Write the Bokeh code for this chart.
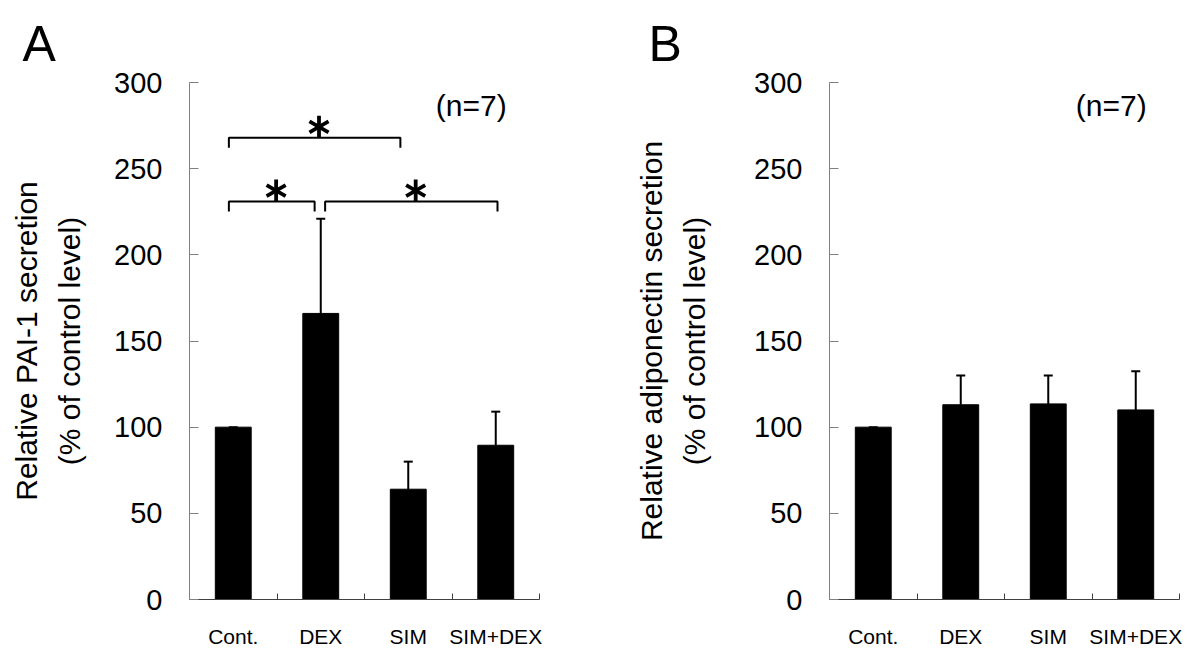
import numpy as np
from bokeh.plotting import figure
from bokeh.models import (ColumnDataSource, Whisker, TeeHead, FixedTicker, Label,
                          Range1d, Title)
from bokeh.layouts import row
from bokeh.embed import file_html
from bokeh.resources import INLINE

# ---------------- data ----------------
categories = ["Cont.", "DEX", "SIM", "SIM+DEX"]
pai1_mean = [100, 166, 64, 89.5]
pai1_err = [0, 55, 16, 19.5]
adipo_mean = [100, 113, 113.5, 110]
adipo_err = [0, 17, 16.5, 22.5]
y_ticks = [0, 50, 100, 150, 200, 250, 300]
n_text = "(n=7)"
# significance brackets (panel A): from-category, to-category, height level
sig_from = ["Cont.", "Cont.", "DEX"]
sig_to = ["SIM", "DEX", "SIM+DEX"]
sig_level = [268, 231, 231]

# ---------------- style ----------------
FONT = "Liberation Sans"
bracket_inset = [(-0.05, -0.09), (-0.05, -0.07), (0.05, 0.02)]
bracket_drop = 5.8
H = 655


def make_panel(means, errs, ylabel, letter, bl, br, bt, bb, label_standoff,
               letter_offset, brackets=False):
    p = figure(width=600, height=H, x_range=Range1d(0, 4), y_range=Range1d(0, 300),
               output_backend="svg", toolbar_location=None,
               min_border_left=bl, min_border_right=br, min_border_top=bt, min_border_bottom=bb)
    p.grid.visible = False
    p.outline_line_color = None
    p.background_fill_color = "white"
    p.border_fill_color = "white"
    p.title = Title(text=letter, align="left", offset=letter_offset, text_font=FONT,
                    text_font_size="50px", text_font_style="normal", text_color="black",
                    vertical_align="bottom", standoff=22)

    x = np.arange(len(categories)) + 0.5
    upper = [m + e for m, e in zip(means, errs)]
    src = ColumnDataSource(dict(x=x, top=means, upper=upper, lower=means))
    p.vbar(x="x", top="top", width=0.41, source=src, fill_color="black", line_color="black")
    w = Whisker(base="x", upper="upper", lower="lower", source=src, dimension="height",
                line_color="black", line_width=2,
                upper_head=TeeHead(size=9, line_color="black", line_width=2), lower_head=None)
    p.add_layout(w)

    # x axis
    xa = p.xaxis[0]
    xa.ticker = FixedTicker(ticks=list(x), minor_ticks=[0, 1, 2, 3, 4])
    xa.major_label_overrides = {float(v): c for v, c in zip(x, categories)}
    xa.major_tick_line_color = None
    xa.minor_tick_in = 6
    xa.minor_tick_out = 0
    xa.minor_tick_line_color = "#404040"
    xa.axis_line_color = "#404040"
    xa.major_label_text_font = FONT
    xa.major_label_text_font_size = "21px"
    xa.major_label_text_color = "black"
    xa.major_label_standoff = 19

    # y axis
    ya = p.yaxis[0]
    ya.ticker = FixedTicker(ticks=y_ticks)
    ya.major_tick_in = 9
    ya.major_tick_out = 0
    ya.minor_tick_line_color = None
    ya.major_tick_line_color = "#808080"
    ya.axis_line_color = "#808080"
    ya.major_label_text_font = FONT
    ya.major_label_text_font_size = "29px"
    ya.major_label_text_color = "black"
    ya.major_label_standoff = 27
    ya.axis_label = ylabel
    ya.axis_label_text_font = FONT
    ya.axis_label_text_font_size = "30px"
    ya.axis_label_text_font_style = "normal"
    ya.axis_label_text_color = "black"
    ya.axis_label_standoff = label_standoff
    ya.axis_label_text_line_height = 1.3

    p.add_layout(Label(x=3.22, y=286.5, text=n_text, text_font=FONT, text_font_size="30px",
                       text_baseline="middle", text_align="center", text_color="black"))

    if brackets:
        idx = {c: i + 0.5 for i, c in enumerate(categories)}
        xs, ys, sx, sy = [], [], [], []
        for a, b, lvl, (ia, ib) in zip(sig_from, sig_to, sig_level, bracket_inset):
            x0, x1 = idx[a] + ia, idx[b] + ib
            xs.append([x0, x0, x1, x1])
            ys.append([lvl - bracket_drop, lvl, lvl, lvl - bracket_drop])
            sx.append((x0 + x1) / 2 + 0.05)
            sy.append(lvl + 6.3)
        p.multi_line(xs=xs, ys=ys, line_color="black", line_width=2)
        # six-armed asterisks made of three rotated dashes
        angles = [np.pi / 2, np.pi / 6, -np.pi / 6]
        ax, ay, aa = [], [], []
        for xx, yy in zip(sx, sy):
            for a in angles:
                ax.append(xx)
                ay.append(yy)
                aa.append(a)
        p.scatter(x=ax, y=ay, angle=aa, marker="dash", size=22, line_width=3.8,
                  line_color="black")
    return p


pA = make_panel(pai1_mean, pai1_err, "Relative PAI-1 secretion\n(% of control level)", "A",
                189, 61, 82, 53, 25, -167, brackets=True)
pB = make_panel(adipo_mean, adipo_err, "Relative adiponectin secretion\n(% of control level)", "B",
                229, 21, 79, 56, 40, -181)

layout = row(pA, pB)
open("out.html", "w").write(file_html(layout, INLINE))
